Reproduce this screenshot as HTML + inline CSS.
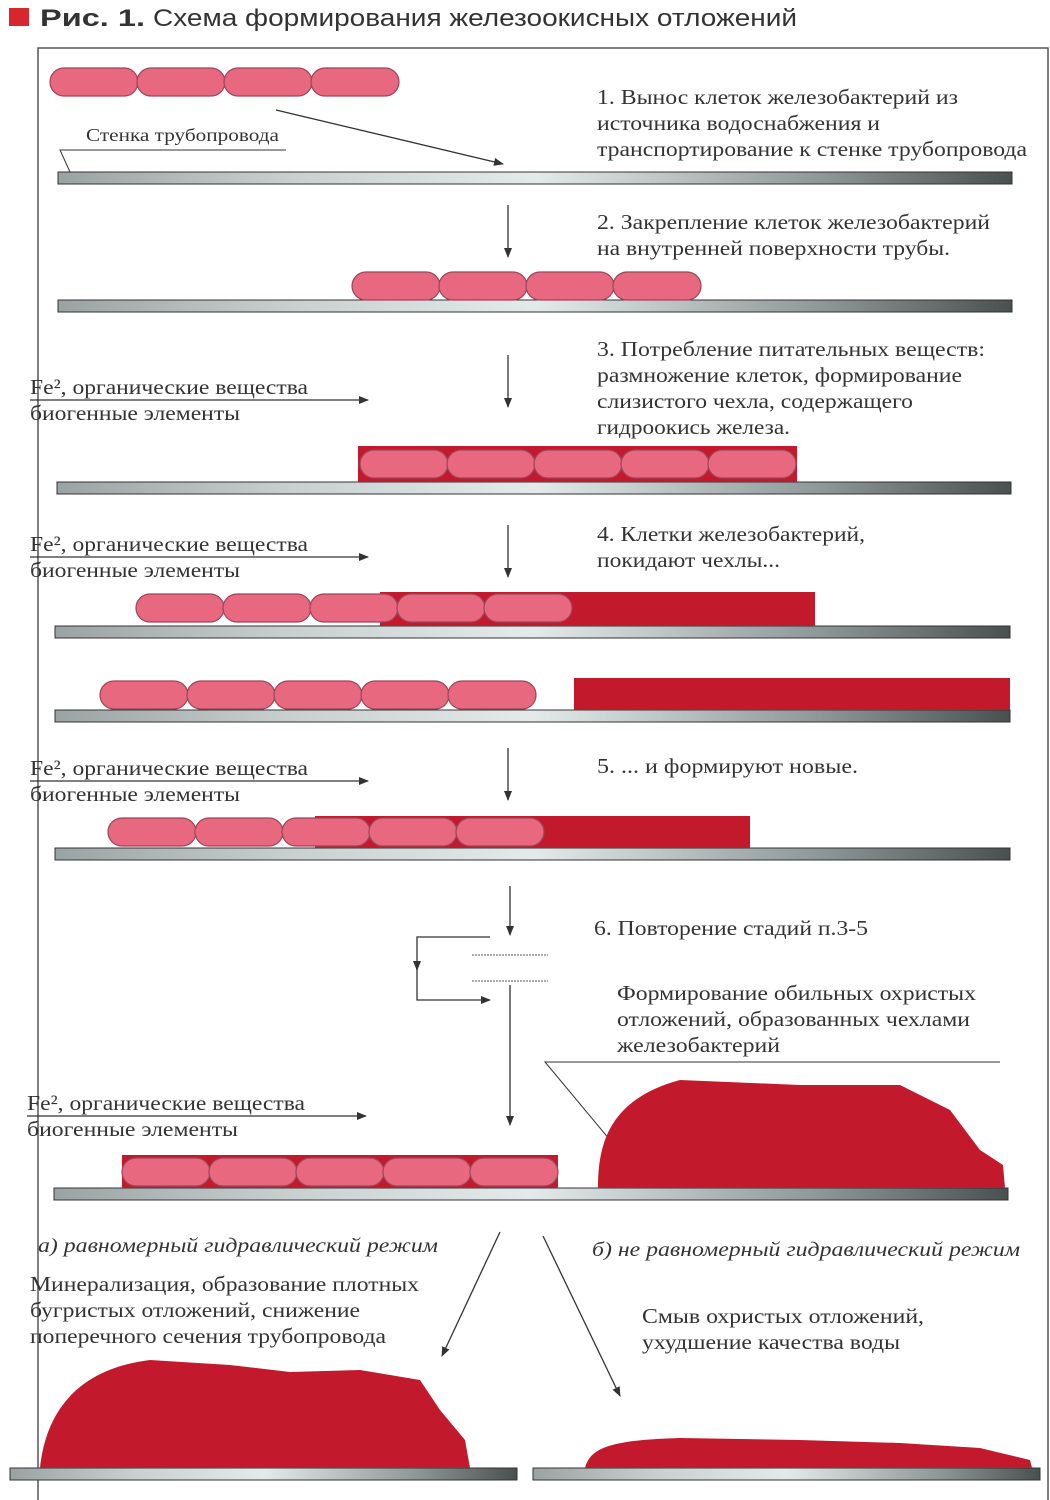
<!DOCTYPE html>
<html><head><meta charset="utf-8"><style>
html,body{margin:0;padding:0;background:#fff;}
svg{display:block}
text{font-family:"Liberation Serif",serif;fill:#333;}
.t{font-size:21px}
.i{font-size:20px;font-style:italic}
</style></head><body>
<svg width="1050" height="1500" viewBox="0 0 1050 1500" xmlns="http://www.w3.org/2000/svg">
<defs>
<linearGradient id="pg" x1="0" x2="1" y1="0" y2="0">
<stop offset="0" stop-color="#9aa3a3"/><stop offset="0.25" stop-color="#c9d0d0"/><stop offset="0.5" stop-color="#e4eaea"/><stop offset="0.8" stop-color="#8e9898"/><stop offset="1" stop-color="#4a5050"/>
</linearGradient>
<marker id="ah" markerWidth="10" markerHeight="10" refX="9" refY="5" orient="auto" markerUnits="userSpaceOnUse" viewBox="0 0 10 10">
<path d="M0,1 L10,5 L0,9 z" fill="#333"/></marker>
<g id="cell"><rect x="0" y="0" width="88" height="28" rx="14" fill="#e8687f" stroke="#9a4658" stroke-width="1.2"/></g>
<g id="c4"><use href="#cell" x="0"/><use href="#cell" x="87"/><use href="#cell" x="174"/><use href="#cell" x="261"/></g>
<g id="c5"><use href="#c4"/><use href="#cell" x="348"/></g>
</defs>
<rect x="0" y="0" width="1050" height="1500" fill="#fff"/>
<rect x="9" y="8" width="20" height="18" fill="#d8262e"/>
<text x="40" y="26" textLength="105" lengthAdjust="spacingAndGlyphs" style="font-family:'Liberation Sans',sans-serif;font-size:24px;font-weight:bold;fill:#333">Рис. 1.</text>
<text x="153" y="26" textLength="644" lengthAdjust="spacingAndGlyphs" style="font-family:'Liberation Sans',sans-serif;font-size:24px;fill:#333">Схема формирования железоокисных отложений</text>
<rect x="38" y="48" width="1010" height="1460" fill="none" stroke="#555" stroke-width="1.5"/>

<g fill="url(#pg)" stroke="#333" stroke-width="1">
<rect x="58" y="172" width="954" height="12"/>
<rect x="58" y="300" width="954" height="12"/>
<rect x="57" y="482" width="954" height="12"/>
<rect x="55" y="626" width="955" height="12"/>
<rect x="55" y="710" width="955" height="12"/>
<rect x="55" y="848" width="955" height="12"/>
<rect x="54" y="1188" width="954" height="12"/>
<rect x="10" y="1468" width="507" height="12"/>
<rect x="533" y="1468" width="507" height="12"/>
</g>

<use href="#c4" x="50" y="68"/>
<line x1="276" y1="110" x2="503" y2="164" stroke="#333" stroke-width="1.3" marker-end="url(#ah)"/>
<text x="86" y="141" style="font-size:18px" textLength="193" lengthAdjust="spacingAndGlyphs">Стенка трубопровода</text>
<polyline points="70,172 60,150 286,150" fill="none" stroke="#333" stroke-width="1"/>
<text class="t" x="597" y="104" textLength="361" lengthAdjust="spacingAndGlyphs">1. Вынос клеток железобактерий из</text>
<text class="t" x="597" y="130" textLength="283" lengthAdjust="spacingAndGlyphs">источника водоснабжения и</text>
<text class="t" x="597" y="156" textLength="430" lengthAdjust="spacingAndGlyphs">транспортирование к стенке трубопровода</text>

<line x1="508" y1="205" x2="508" y2="257" stroke="#333" stroke-width="1.3" marker-end="url(#ah)"/>
<text class="t" x="597" y="229" textLength="393" lengthAdjust="spacingAndGlyphs">2. Закрепление клеток железобактерий</text>
<text class="t" x="597" y="255" textLength="353" lengthAdjust="spacingAndGlyphs">на внутренней поверхности трубы.</text>
<use href="#c4" x="352" y="272"/>

<line x1="508" y1="355" x2="508" y2="407" stroke="#333" stroke-width="1.3" marker-end="url(#ah)"/>
<text class="t" x="597" y="356" textLength="388" lengthAdjust="spacingAndGlyphs">3. Потребление питательных веществ:</text>
<text class="t" x="597" y="382" textLength="365" lengthAdjust="spacingAndGlyphs">размножение клеток, формирование</text>
<text class="t" x="597" y="408" textLength="316" lengthAdjust="spacingAndGlyphs">слизистого чехла, содержащего</text>
<text class="t" x="597" y="434" textLength="193" lengthAdjust="spacingAndGlyphs">гидроокись железа.</text>
<text class="t" x="30" y="394" textLength="278" lengthAdjust="spacingAndGlyphs">Fe², органические вещества</text>
<text class="t" x="30" y="420" textLength="210" lengthAdjust="spacingAndGlyphs">биогенные элементы</text>
<line x1="30" y1="400" x2="368" y2="400" stroke="#333" stroke-width="1.3" marker-end="url(#ah)"/>
<rect x="358" y="446" width="439" height="36" fill="#c21a2c"/>
<use href="#c5" x="360" y="450"/>

<line x1="508" y1="525" x2="508" y2="577" stroke="#333" stroke-width="1.3" marker-end="url(#ah)"/>
<text class="t" x="597" y="541" textLength="268" lengthAdjust="spacingAndGlyphs">4. Клетки железобактерий,</text>
<text class="t" x="597" y="567" textLength="183" lengthAdjust="spacingAndGlyphs">покидают чехлы...</text>
<text class="t" x="30" y="551" textLength="278" lengthAdjust="spacingAndGlyphs">Fe², органические вещества</text>
<text class="t" x="30" y="577" textLength="210" lengthAdjust="spacingAndGlyphs">биогенные элементы</text>
<line x1="30" y1="557" x2="368" y2="557" stroke="#333" stroke-width="1.3" marker-end="url(#ah)"/>
<rect x="380" y="592" width="435" height="34" fill="#c21a2c"/>
<use href="#c5" x="136" y="594"/>

<use href="#c5" x="100" y="681"/>
<rect x="574" y="678" width="436" height="32" fill="#c21a2c"/>

<line x1="508" y1="748" x2="508" y2="800" stroke="#333" stroke-width="1.3" marker-end="url(#ah)"/>
<text class="t" x="597" y="773" textLength="261" lengthAdjust="spacingAndGlyphs">5.  ... и формируют новые.</text>
<text class="t" x="30" y="775" textLength="278" lengthAdjust="spacingAndGlyphs">Fe², органические вещества</text>
<text class="t" x="30" y="801" textLength="210" lengthAdjust="spacingAndGlyphs">биогенные элементы</text>
<line x1="30" y1="781" x2="368" y2="781" stroke="#333" stroke-width="1.3" marker-end="url(#ah)"/>
<rect x="315" y="816" width="435" height="32" fill="#c21a2c"/>
<use href="#c5" x="108" y="818"/>

<line x1="510" y1="886" x2="510" y2="935" stroke="#333" stroke-width="1.3" marker-end="url(#ah)"/>
<text class="t" x="594" y="935" textLength="274" lengthAdjust="spacingAndGlyphs">6. Повторение стадий п.3-5</text>
<polyline points="490,937 417,937 417,970" fill="none" stroke="#333" stroke-width="1.3" marker-end="url(#ah)"/>
<polyline points="417,968 417,1000 490,1000" fill="none" stroke="#333" stroke-width="1.3" marker-end="url(#ah)"/>
<line x1="472" y1="955" x2="548" y2="955" stroke="#555" stroke-width="1" stroke-dasharray="2,1"/>
<line x1="472" y1="981" x2="548" y2="981" stroke="#555" stroke-width="1" stroke-dasharray="2,1"/>
<line x1="510" y1="985" x2="510" y2="1125" stroke="#333" stroke-width="1.3" marker-end="url(#ah)"/>
<text class="t" x="617" y="1000" textLength="359" lengthAdjust="spacingAndGlyphs">Формирование обильных охристых</text>
<text class="t" x="617" y="1026" textLength="353" lengthAdjust="spacingAndGlyphs">отложений, образованных чехлами</text>
<text class="t" x="617" y="1052" textLength="163" lengthAdjust="spacingAndGlyphs">железобактерий</text>
<polyline points="1000,1062 545,1062 625,1158" fill="none" stroke="#333" stroke-width="1"/>
<text class="t" x="27" y="1110" textLength="278" lengthAdjust="spacingAndGlyphs">Fe², органические вещества</text>
<text class="t" x="27" y="1136" textLength="211" lengthAdjust="spacingAndGlyphs">биогенные элементы</text>
<line x1="27" y1="1116" x2="366" y2="1116" stroke="#333" stroke-width="1.3" marker-end="url(#ah)"/>
<rect x="122" y="1155" width="436" height="33" fill="#c21a2c"/>
<use href="#c5" x="122" y="1158"/>
<path d="M598,1188 C598,1150 605,1100 680,1080 L800,1085 L900,1085 L950,1110 L980,1150 L1003,1165 L1005,1188 Z" fill="#c21a2c"/>

<text class="i" x="38" y="1252" textLength="400" lengthAdjust="spacingAndGlyphs">а) равномерный гидравлический режим</text>
<text class="i" x="592" y="1256" textLength="428" lengthAdjust="spacingAndGlyphs">б) не равномерный гидравлический режим</text>
<line x1="500" y1="1232" x2="442" y2="1356" stroke="#333" stroke-width="1.3" marker-end="url(#ah)"/>
<line x1="543" y1="1236" x2="620" y2="1396" stroke="#333" stroke-width="1.3" marker-end="url(#ah)"/>
<text class="t" x="30" y="1291" textLength="389" lengthAdjust="spacingAndGlyphs">Минерализация, образование плотных</text>
<text class="t" x="30" y="1317" textLength="330" lengthAdjust="spacingAndGlyphs">бугристых отложений, снижение</text>
<text class="t" x="30" y="1343" textLength="356" lengthAdjust="spacingAndGlyphs">поперечного сечения трубопровода</text>
<text class="t" x="642" y="1323" textLength="282" lengthAdjust="spacingAndGlyphs">Смыв охристых отложений,</text>
<text class="t" x="642" y="1349" textLength="258" lengthAdjust="spacingAndGlyphs">ухудшение качества воды</text>
<path d="M40,1468 C45,1420 70,1370 150,1360 L230,1365 L290,1372 L360,1370 L420,1380 L440,1410 L465,1440 L470,1468 Z" fill="#c21a2c"/>
<path d="M585,1468 C590,1448 610,1440 680,1438 L800,1440 L900,1443 L980,1448 L1030,1460 L1032,1468 Z" fill="#c21a2c"/>
</svg>
</body></html>
